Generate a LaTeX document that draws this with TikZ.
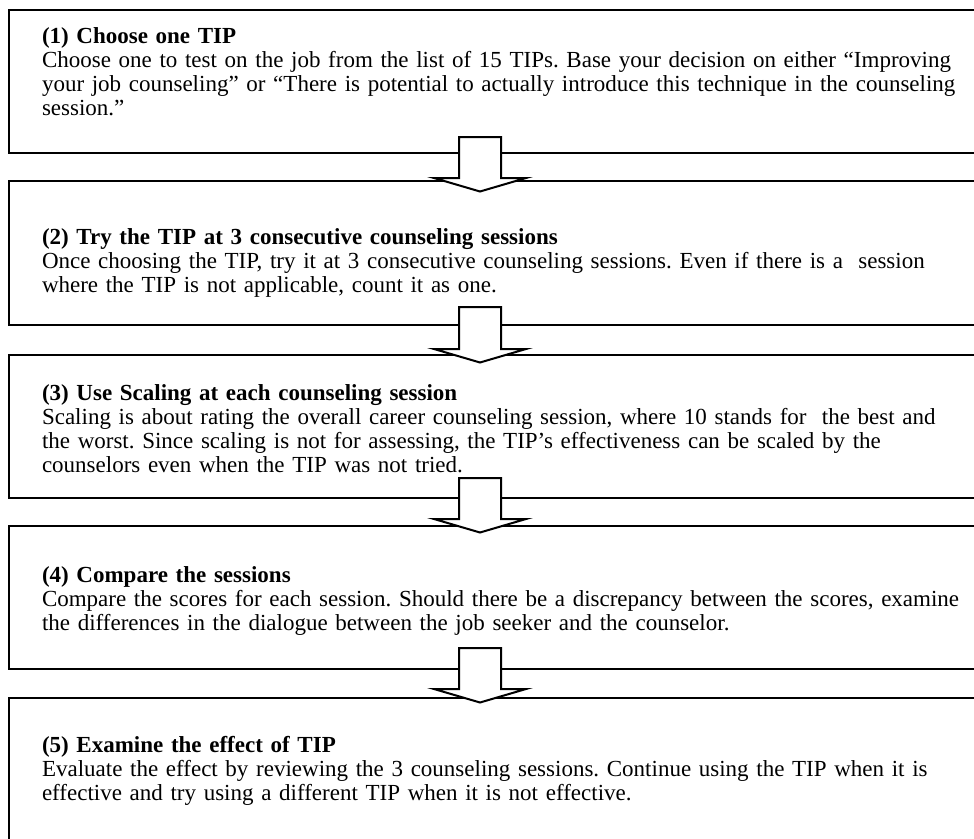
\documentclass[tikz,border=0pt]{standalone}
\usepackage{fontspec}
\setmainfont{Liberation Serif}
\usetikzlibrary{calc}
\tikzset{
  stepframe/.style={draw=black, line width=2.6pt, fill=none, inner sep=0pt, outer sep=0pt,
    anchor=north west, minimum width=1000pt, rectangle},
  steptext/.style={anchor=base west, inner sep=0pt, outer sep=0pt, align=left, text width=950pt,
    font=\fontsize{23}{24}\selectfont\frenchspacing},
  bigarrow/.style={draw=black, fill=white, line width=2pt, line join=miter},
}
\newcommand\flowarrow[4]{%
  \filldraw[bigarrow]
    ($(#1.south west)+(450,-#3)$) -- ($(#1.south west)+(492,-#3)$) --
    ($(#2.north west)+(492,-#4)$) -- ($(#2.north west)+(517,-#4)$) --
    ($(#2.north west)+(471,{13.5-#4})$) --
    ($(#2.north west)+(425,-#4)$) -- ($(#2.north west)+(450,-#4)$) -- cycle;}
\begin{document}
\begin{tikzpicture}[x=1pt,y=-1pt]
\useasboundingbox (0,0) rectangle (974,838);
\clip (0,0) rectangle (974,838);
\fill[white] (0,0) rectangle (974,838);

\node[stepframe, minimum height=143pt] (b1) at (9,10) {};
\node[stepframe, minimum height=144pt] (b2) at (9,181) {};
\node[stepframe, minimum height=143pt] (b3) at (9,355) {};
\node[stepframe, minimum height=143pt] (b4) at (9,526) {};
\node[stepframe, minimum height=145pt] (b5) at (9,698) {};

\node[steptext] (t1) at (42,43) {\textbf{(1) Choose one TIP}\\
Choose one to test on the job from the list of 15 TIPs. Base your decision on either “Improving\\
your job counseling” or “There is potential to actually introduce this technique in the counseling\\
session.”};

\node[steptext] (t2) at (42,244) {\textbf{(2) Try the TIP at 3 consecutive counseling sessions}\\
Once choosing the TIP, try it at 3 consecutive counseling sessions. Even if there is a\ \ session\\
where the TIP is not applicable, count it as one.};

\node[steptext] (t3) at (42,400) {\textbf{(3) Use Scaling at each counseling session}\\
Scaling is about rating the overall career counseling session, where 10 stands for\ \ the best and\\
the worst. Since scaling is not for assessing, the TIP’s effectiveness can be scaled by the\\
counselors even when the TIP was not tried.};

\node[steptext] (t4) at (42,582) {\textbf{(4) Compare the sessions}\\
Compare the scores for each session. Should there be a discrepancy between the scores, examine\\
the differences in the dialogue between the job seeker and the counselor.};

\node[steptext] (t5) at (42,752) {\textbf{(5) Examine the effect of TIP}\\
Evaluate the effect by reviewing the 3 counseling sessions. Continue using the TIP when it is\\
effective and try using a different TIP when it is not effective.};

\flowarrow{b1}{b2}{16}{3}
\flowarrow{b2}{b3}{18}{6}
\flowarrow{b3}{b4}{20}{7}
\flowarrow{b4}{b5}{21}{9}
\end{tikzpicture}
\end{document}
